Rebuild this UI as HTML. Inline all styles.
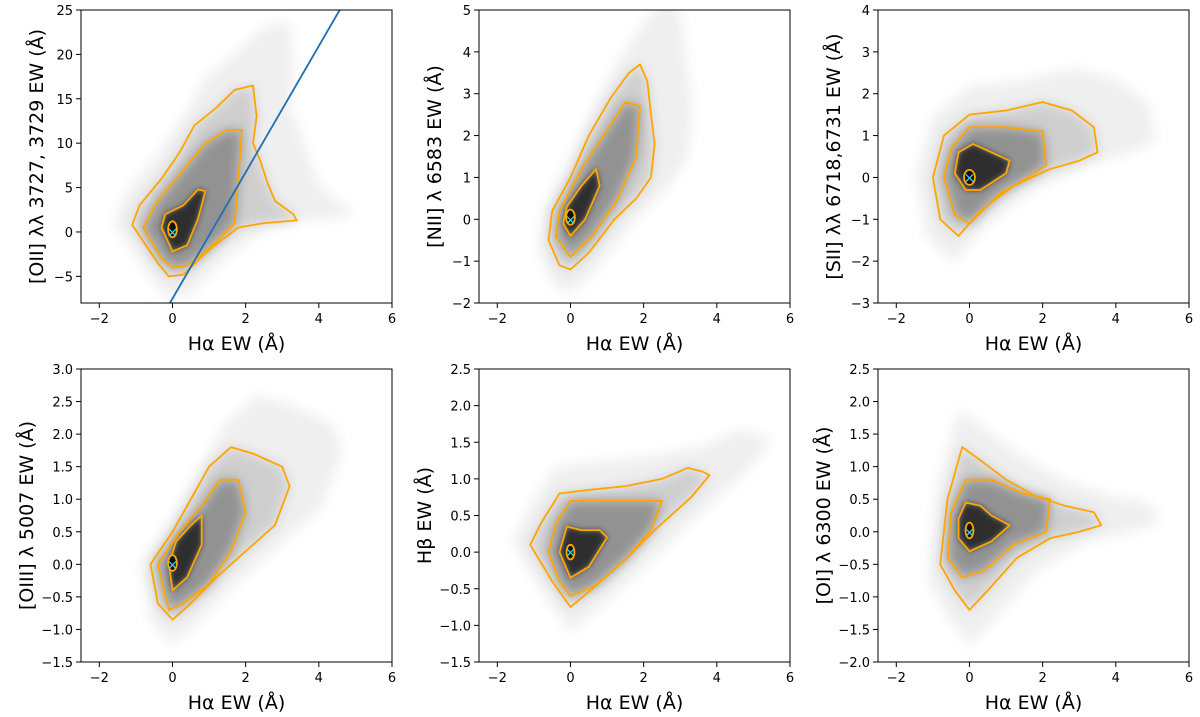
<!DOCTYPE html>
<html><head><meta charset="utf-8">
<style>
html,body{margin:0;padding:0;background:#fff;}
svg{display:block;font-family:"DejaVu Sans","Liberation Sans",sans-serif;}
</style></head>
<body>
<svg id="fig" width="1200" height="717" viewBox="0 0 1200 717" xmlns="http://www.w3.org/2000/svg">
<defs>
<filter id="blur6" x="-50%" y="-50%" width="200%" height="200%"><feGaussianBlur stdDeviation="6"/></filter>
<filter id="blur3" x="-50%" y="-50%" width="200%" height="200%"><feGaussianBlur stdDeviation="3"/></filter>
</defs>
</svg>
<script>
// ----- data (per panel) -----
const panelTitles = ["[OII] λλ 3727, 3729 EW (Å)","[NII] λ 6583 EW (Å)","[SII] λλ 6718,6731 EW (Å)","[OIII] λ 5007 EW (Å)","Hβ EW (Å)","[OI] λ 6300 EW (Å)"];
const yRanges = [[-8,25],[-2,5],[-3,4],[-1.5,3],[-1.5,2.5],[-2,2.5]];
const yTicks = [[-5,0,5,10,15,20,25],[-2,-1,0,1,2,3,4,5],[-3,-2,-1,0,1,2,3,4],[-1.5,-1,-0.5,0,0.5,1,1.5,2,2.5,3],[-1.5,-1,-0.5,0,0.5,1,1.5,2,2.5],[-2,-1.5,-1,-0.5,0,0.5,1,1.5,2,2.5]];
const yDecimals = [0,0,0,1,1,1];
const xRange = [-2.5,6];
const xTicks = [-2,0,2,4,6];
const outerContours = [
 [[-1.1,0.8],[-0.4,-3.5],[-0.1,-5],[0.3,-4.8],[1,-2],[1.8,0.5],[2.5,1],[3.4,1.3],[3.3,2],[2.8,3.5],[2.6,5.5],[2.4,8],[2.2,10],[2.3,13],[2.2,16.5],[1.7,16],[1.2,14],[0.6,12],[0.2,9],[-0.3,6],[-0.9,3]],
 [[-0.6,-0.5],[-0.3,-1.1],[0,-1.2],[0.5,-0.8],[1.2,0],[1.8,0.5],[2.2,1],[2.3,1.8],[2.2,2.5],[2.1,3.3],[1.9,3.7],[1.6,3.5],[1.1,2.9],[0.5,2],[0,1],[-0.5,0.2]],
 [[-1,0],[-0.8,-1],[-0.3,-1.4],[0.3,-0.8],[1.2,-0.2],[2.2,0.2],[3,0.4],[3.5,0.6],[3.4,1.2],[2.8,1.6],[2,1.8],[1,1.6],[0,1.5],[-0.7,1]],
 [[-0.6,0],[-0.4,-0.6],[0,-0.85],[0.5,-0.6],[1.2,-0.2],[2,0.2],[2.8,0.6],[3.2,1.2],[3,1.5],[2.2,1.7],[1.6,1.8],[1,1.5],[0.5,1],[0,0.5]],
 [[-1.1,0.1],[-0.5,-0.4],[0,-0.75],[0.6,-0.5],[1.5,-0.1],[2.3,0.3],[3.3,0.75],[3.8,1.05],[3.6,1.1],[3.2,1.15],[2.5,1.0],[1.5,0.9],[0.5,0.85],[-0.3,0.8],[-0.8,0.4]],
 [[-0.8,-0.5],[-0.4,-0.9],[0,-1.2],[0.5,-0.9],[1.3,-0.4],[2.2,-0.1],[3,0],[3.6,0.1],[3.4,0.3],[2.6,0.4],[1.8,0.55],[1,0.8],[0.3,1.1],[-0.2,1.3],[-0.6,0.5]]
];
const middleContours = [
 [[-0.8,0.5],[-0.3,-3],[0,-4],[0.4,-3.8],[1.1,-1.5],[1.7,1],[1.8,6],[1.9,11.5],[1.5,11.5],[0.9,10],[0.3,7],[-0.4,3.5]],
 [[-0.4,-0.4],[0,-0.9],[0.6,-0.4],[1.3,0.5],[1.8,1.5],[1.9,2.7],[1.5,2.8],[0.9,2],[0.3,1.2],[-0.3,0.2]],
 [[-0.7,0],[-0.4,-0.9],[0,-1.1],[0.8,-0.4],[1.6,0],[2.1,0.3],[2,1.1],[1,1.2],[0,1.2],[-0.5,0.7]],
 [[-0.4,0],[-0.1,-0.7],[0.3,-0.6],[1,-0.3],[1.6,0.2],[2,0.8],[1.8,1.3],[1.3,1.3],[0.8,0.9],[0.2,0.5]],
 [[-0.6,0],[-0.3,-0.4],[0,-0.6],[0.7,-0.45],[1.5,-0.1],[2.2,0.3],[2.5,0.7],[2,0.7],[1,0.7],[0,0.7],[-0.4,0.4]],
 [[-0.6,-0.4],[-0.2,-0.7],[0.4,-0.6],[1.2,-0.2],[2.1,0.0],[2.2,0.5],[1.4,0.6],[0.6,0.8],[-0.1,0.8],[-0.5,0.3]]
];
const innerContours = [
 [[-0.3,0.5],[0,-2.2],[0.4,-1.5],[0.7,1.5],[0.9,4.6],[0.7,4.8],[0.3,3],[-0.2,2]],
 [[-0.2,-0.1],[0,-0.4],[0.4,0],[0.8,0.8],[0.7,1.2],[0.3,0.8],[-0.1,0.3]],
 [[-0.4,0.1],[-0.1,-0.3],[0.3,-0.3],[1,0.1],[1.1,0.4],[0.6,0.6],[0.1,0.8],[-0.3,0.6]],
 [[-0.1,0],[0,-0.4],[0.4,-0.2],[0.8,0.3],[0.8,0.75],[0.5,0.6],[0.1,0.35]],
 [[-0.3,0],[0,-0.35],[0.5,-0.2],[1,0.2],[0.8,0.3],[0.3,0.3],[-0.1,0.35]],
 [[-0.3,-0.1],[0,-0.3],[0.6,-0.15],[1.1,0.1],[0.6,0.25],[0.3,0.4],[-0.1,0.45],[-0.3,0.2]]
];
const coreCenters = [[0,0.3],[0,0.05],[0,0],[0,0.02],[0,0],[0,0.02]];
const coreRadii = [[0.12,0.9],[0.12,0.18],[0.15,0.18],[0.12,0.12],[0.1,0.1],[0.1,0.12]];
const cutLine = [[-0.07,-8],[4.57,25]];

// ----- layout -----
const colX = [81,479,878], rowY = [10,369], W = 311, H = 293;
const NS = "http://www.w3.org/2000/svg";
const svg = document.getElementById('fig');
function mk(tag, attrs, parent){const e=document.createElementNS(NS,tag);for(const k in attrs)e.setAttribute(k,attrs[k]);(parent||svg).appendChild(e);return e;}

panelTitles.forEach((title,i)=>{
  const x0 = colX[i%3], y0 = rowY[Math.floor(i/3)];
  const yr = yRanges[i];
  const sx = v => x0 + (v - xRange[0])/(xRange[1]-xRange[0])*W;
  const sy = v => y0 + H - (v - yr[0])/(yr[1]-yr[0])*H;
  const g = mk('g',{});
  
  
  const clipId='clip'+i;
  const cp = mk('clipPath',{id:clipId},g); mk('rect',{x:x0,y:y0,width:W,height:H},cp);
  const plot = mk('g',{'clip-path':'url(#'+clipId+')'},g);
  const pathOf = pts => 'M'+pts.map(p=>sx(p[0]).toFixed(1)+','+sy(p[1]).toFixed(1)).join('L')+'Z';
  const [cx,cy] = coreCenters[i];
  const halo = outerContours[i].map(p=>[cx+(p[0]-cx)*1.45, cy+(p[1]-cy)*1.45]);
  const d0 = mk('path',{d:pathOf(halo),fill:'#efefef',filter:'url(#blur6)'},plot);
   
  const d1 = mk('path',{d:pathOf(outerContours[i]),fill:'#cfcfcf',filter:'url(#blur6)'},plot);
   
  const d2 = mk('path',{d:pathOf(middleContours[i]),fill:'#929292',filter:'url(#blur6)'},plot);
   
  const d3 = mk('path',{d:pathOf(innerContours[i]),fill:'#2e2e2e',filter:'url(#blur3)'},plot);
   
  [outerContours[i],middleContours[i],innerContours[i]].forEach((c,k)=>{
    const p = mk('path',{d:pathOf(c),fill:'none',stroke:'#ffa500','stroke-width':1.8,'stroke-linejoin':'round'},plot);
    
    
  });
  const rx = coreRadii[i][0]*W/(xRange[1]-xRange[0]), ry = coreRadii[i][1]*H/(yr[1]-yr[0]);
  const e = mk('ellipse',{cx:sx(cx),cy:sy(cy),rx:Math.max(rx,4),ry:Math.max(ry,6),fill:'#111',stroke:'#ffa500','stroke-width':1.8},plot);
   
  const m = mk('text',{x:sx(0),y:sy(0)+5,'text-anchor':'middle','font-size':14,fill:'#33e0f0'},plot);
  m.textContent='×';
   
  if(i===0){
    const l = mk('line',{x1:sx(cutLine[0][0]),y1:sy(cutLine[0][1]),x2:sx(cutLine[1][0]),y2:sy(cutLine[1][1]),stroke:'#1f6fb4','stroke-width':1.8},plot);
     
  }
  const fr = mk('rect',{x:x0,y:y0,width:W,height:H,fill:'none',stroke:'#000','stroke-width':1},g);
   
  xTicks.forEach(t=>{
    mk('line',{x1:sx(t),y1:y0+H,x2:sx(t),y2:y0+H+5,stroke:'#000'},g);
    const tx = mk('text',{x:sx(t),y:y0+H+20,'text-anchor':'middle','font-size':13},g);
    tx.textContent = (t<0?'−':'')+Math.abs(t);
     
  });
  yTicks[i].forEach(t=>{
    mk('line',{x1:x0-5,y1:sy(t),x2:x0,y2:sy(t),stroke:'#000'},g);
    const ty = mk('text',{x:x0-8,y:sy(t)+5,'text-anchor':'end','font-size':13},g);
    ty.textContent = (t<0?'−':'')+Math.abs(t).toFixed(yDecimals[i]);
     
  });
  const xl = mk('text',{x:x0+W/2,y:y0+H+47,'text-anchor':'middle','font-size':19},g);
  xl.textContent='Hα EW (Å)';
   
  const yx = x0 - (yDecimals[i]?48:38), ymid = y0+H/2;
  const yl = mk('text',{x:yx,y:ymid,'text-anchor':'middle','font-size':19,transform:'rotate(-90 '+yx+' '+ymid+')'},g);
  yl.textContent=title;
   
});
</script>
</body></html>
